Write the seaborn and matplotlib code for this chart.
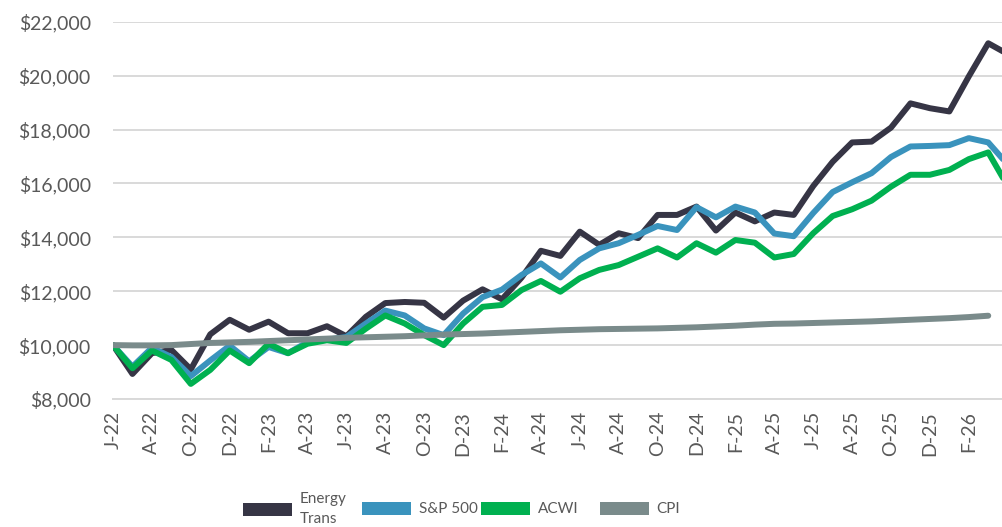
import numpy as np
import pandas as pd
import matplotlib
matplotlib.use('Agg')
import matplotlib.pyplot as plt
import seaborn as sns
from matplotlib.patches import Patch
from matplotlib.ticker import FuncFormatter

# monthly values, Jun-22 .. Apr-26 (growth of $10,000)
months = pd.date_range('2022-06-01', periods=47, freq='MS')

energy_trans = [10000, 8930, 9700, 9820, 9100, 10400, 10940, 10570, 10870, 10440,
                10440, 10700, 10330, 11050, 11560, 11600, 11570, 11020, 11650, 12070,
                11700, 12500, 13500, 13310, 14210, 13720, 14150, 13970, 14830, 14830,
                15140, 14250, 14920, 14590, 14920, 14830, 15900, 16800, 17520, 17550,
                18070, 18970, 18790, 18670, 19970, 21200, 20800]
sp500 = [10000, 9200, 9900, 9560, 8850, 9430, 9980, 9400, 9930, 9700,
         10110, 10200, 10300, 10800, 11280, 11100, 10620, 10370, 11170, 11780,
         12060, 12600, 13030, 12510, 13160, 13590, 13780, 14090, 14420, 14270,
         15120, 14740, 15140, 14920, 14140, 14040, 14900, 15680, 16040, 16380,
         16980, 17370, 17390, 17420, 17680, 17520, 16700]
acwi = [10000, 9140, 9800, 9450, 8560, 9080, 9800, 9330, 10050, 9700,
        10050, 10180, 10080, 10610, 11100, 10800, 10370, 10000, 10800, 11420,
        11490, 12040, 12380, 11980, 12480, 12790, 12970, 13280, 13590, 13250,
        13780, 13430, 13900, 13800, 13250, 13380, 14150, 14790, 15040, 15360,
        15880, 16320, 16320, 16500, 16900, 17150, 15900]
cpi = [10000, 9990, 9990, 10000, 10040, 10080, 10100, 10120, 10150, 10180,
       10210, 10240, 10270, 10290, 10310, 10330, 10360, 10390, 10410, 10430,
       10460, 10490, 10520, 10550, 10570, 10590, 10600, 10610, 10620, 10640,
       10660, 10690, 10720, 10760, 10790, 10800, 10820, 10840, 10860, 10880,
       10910, 10940, 10970, 11000, 11040, 11090, np.nan]

series_names = ['Energy\nTrans', 'S&P 500', 'ACWI', 'CPI']
series_colors = ['#363545', '#3A93BD', '#00B050', '#7A8B8B']

tick_labels = [m.strftime('%b')[0] + '-' + m.strftime('%y') for m in months[:45:2]]

frames = []
for name, vals in zip(series_names, [energy_trans, sp500, acwi, cpi]):
    frames.append(pd.DataFrame({'idx': np.arange(len(months)), 'value': vals, 'series': name}))
df = pd.concat(frames).dropna()

sns.set_style('white')
plt.rcParams['font.family'] = ['Lato', 'DejaVu Sans']

fig = plt.figure(figsize=(10.03, 5.27), dpi=100)
# plot area runs past the right edge, as in the cropped original
ax = fig.add_axes([113 / 1003, 128 / 527, 894.7 / 1003, 377.3 / 527])

sns.lineplot(data=df, x='idx', y='value', hue='series', hue_order=series_names,
             palette=series_colors, estimator=None, lw=4.3, legend=False, ax=ax,
             solid_capstyle='round')

ax.set_xlim(0, 46)
ax.set_ylim(8000, 22000)
ax.set_yticks(range(8000, 22001, 2000))
ax.yaxis.set_major_formatter(FuncFormatter(lambda v, p: f'${v:,.0f}'))
ax.set_xticks(range(0, 45, 2))
ax.set_xticklabels(tick_labels, rotation=90)
ax.set_xlabel('')
ax.set_ylabel('')

ax.grid(axis='y', color='#D9D9D9', lw=1.4)
ax.set_axisbelow(True)
for s in ['top', 'right', 'left']:
    ax.spines[s].set_visible(False)
ax.spines['bottom'].set_color('#D9D9D9')
ax.spines['bottom'].set_linewidth(1.4)

ax.tick_params(axis='y', length=0, pad=16, labelsize=14, labelcolor='#595959')
ax.tick_params(axis='x', length=6.5, width=1.4, color='#D9D9D9', pad=2,
               labelsize=14, labelcolor='#595959')

# legend: fixed-width entries like the original
fs = 11
px = fs * 100 / 72
for i, (name, col) in enumerate(zip(series_names, series_colors)):
    leg = fig.legend(handles=[Patch(facecolor=col, edgecolor='none')], labels=[name],
                     loc='center left', bbox_to_anchor=((242.7 + 119 * i) / 1003, 18 / 527),
                     frameon=False, borderpad=0, borderaxespad=0, fontsize=fs,
                     handlelength=49 / px, handleheight=15 / px, handletextpad=8 / px,
                     labelcolor='#595959')
    for t in leg.get_texts():
        t.set_linespacing(1.6)

fig.savefig('out.png', dpi=100)
